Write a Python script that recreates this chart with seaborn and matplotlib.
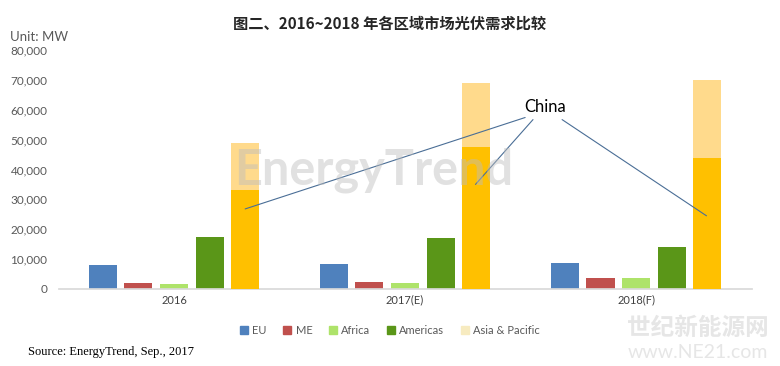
import pandas as pd
import numpy as np
import matplotlib
matplotlib.use("Agg")
import matplotlib.pyplot as plt
import seaborn as sns
from matplotlib.patches import Wedge, Patch
from matplotlib.ticker import FuncFormatter

# 数据
years = ["2016", "2017(E)", "2018(F)"]
regions = ["EU", "ME", "Africa", "Americas", "Asia & Pacific"]
eu = [8000, 8400, 8700]
me = [2000, 2300, 3700]
africa = [1700, 2000, 3700]
americas = [17500, 17200, 14000]
asia_pacific = [49000, 69000, 70000]
china = [33000, 47500, 44000]

colors = ["#4F81BD", "#C0504D", "#AEE36A", "#5A9618", "#FFDA8C"]
china_color = "#FFC000"

rows = []
for i, y in enumerate(years):
    for r, vals in zip(regions, [eu, me, africa, americas, asia_pacific]):
        rows.append({"year": y, "region": r, "mw": vals[i], "china": china[i] if r == "Asia & Pacific" else 0})
df = pd.DataFrame(rows)

sns.set_theme(style="white")
plt.rcParams['font.family'] = ['Lato', 'Noto Sans CJK SC', 'DejaVu Sans']

fig = plt.figure(figsize=(7.8, 3.66), dpi=100)
ax = fig.add_axes([0.075, 0.2104, 0.8885, 0.653])

# 水印 EnergyTrend
fig.text(0.30, 0.535, "EnergyTrend", fontsize=35, fontweight="bold", color="#BDBDBD",
         alpha=0.45, ha="left", va="center", zorder=0)
ring1 = Wedge((0.275, 0.55), 0.045, 20, 200, width=0.018, transform=fig.transFigure,
              color="#F4B183", alpha=0.35, zorder=0)
ring2 = Wedge((0.275, 0.55), 0.045, 200, 380, width=0.018, transform=fig.transFigure,
              color="#A9D18E", alpha=0.35, zorder=0)
fig.add_artist(ring1)
fig.add_artist(ring2)

sns.barplot(data=df, x="year", y="mw", hue="region", hue_order=regions, order=years,
            palette=colors, width=0.77, gap=0.21, saturation=1, ax=ax, legend=False,
            linewidth=0, zorder=2)
sns.barplot(data=df, x="year", y="china", hue="region", hue_order=regions, order=years,
            palette=["#FFFFFF"] * 4 + [china_color], width=0.77, gap=0.21, saturation=1,
            ax=ax, legend=False, linewidth=0, zorder=3)
# 去掉第二次画的零高柱
for p in ax.patches:
    if p.get_height() == 0:
        p.set_visible(False)

ax.set_ylim(0, 80000)
ax.set_xlim(-0.5, 2.5)
ax.set_yticks(range(0, 80001, 10000))
ax.yaxis.set_major_formatter(FuncFormatter(lambda v, p: f"{int(v):,}"))
ax.tick_params(axis="y", labelsize=8.5, colors="#595959", length=0, pad=8)
ax.tick_params(axis="x", labelsize=8, colors="#404040", length=0, pad=4)
ax.set_xlabel("")
ax.set_ylabel("")
sns.despine(ax=ax, left=True)
ax.spines["bottom"].set_color("#D9D9D9")

# China 注释
ax.text(1.606, 61000, "China", fontsize=12, color="black", ha="center", va="center")
targets = [(0.308, 26800, 1.52, 57400), (1.305, 35000, 1.554, 56700), (2.305, 24500, 1.68, 56700)]
for tx, ty, sx, sy in targets:
    ax.plot([sx, tx], [sy, ty], color="#4A6E96", lw=0.8, zorder=4)

# 图例
handles = [Patch(color=c) for c in colors]
handles[-1] = Patch(color="#F7EBC0")
fig.legend(handles, regions, loc="center", bbox_to_anchor=(0.5, 0.097), ncol=5,
           frameon=False, fontsize=8, handlelength=0.7, handleheight=0.7,
           columnspacing=1.5, handletextpad=0.4, labelcolor="#595959")

fig.text(0.5, 0.935, "图二、2016~2018 年各区域市场光伏需求比较", ha="center", va="center",
         fontsize=11, fontweight="bold", family=["Noto Sans CJK SC", "DejaVu Sans"])
fig.text(0.013, 0.9, "Unit: MW", fontsize=9.5, color="#595959", ha="left", va="center")
fig.text(0.036, 0.038, "Source: EnergyTrend, Sep., 2017", fontsize=9, color="black",
         ha="left", va="center", family="Liberation Serif")

# 右下角水印
fig.text(0.895, 0.105, "世纪新能源网", fontsize=17, color="#E6E6E6", ha="center", va="center",
         family=["Noto Sans CJK SC", "DejaVu Sans"], fontweight="bold")
fig.text(0.895, 0.038, "www.NE21.com", fontsize=14, color="#E6E6E6", ha="center", va="center")

fig.savefig("out.png", dpi=100)
